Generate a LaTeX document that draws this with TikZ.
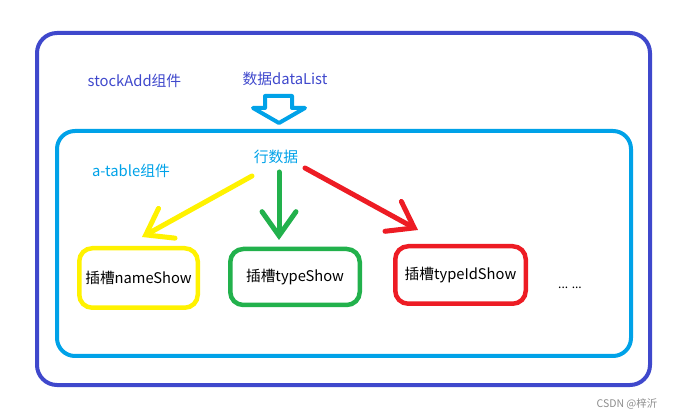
\documentclass[tikz,border=0pt]{standalone}
\usepackage{fontspec}
\setmainfont{Noto Sans CJK SC}
\usetikzlibrary{arrows.meta}
\definecolor{pindigo}{RGB}{63,72,204}
\definecolor{pcyan}{RGB}{0,162,232}
\definecolor{pyellow}{RGB}{255,242,0}
\definecolor{pgreen}{RGB}{34,177,76}
\definecolor{pred}{RGB}{237,28,36}
\tikzset{
  frame/.style={draw, line width=4pt, rounded corners=20pt, inner sep=0pt},
  slot/.style={draw, line width=4.5pt, rounded corners=13pt, inner sep=0pt, font=\fontsize{14.7}{17}\selectfont, text=black},
  lbl/.style={font=\fontsize{14.8}{17}\selectfont, inner sep=0pt},
  flow/.style={line width=5pt, line cap=round, line join=round, -{Straight Barb[length=24pt,width=34pt,line cap=round]}},
}
\begin{document}
\begin{tikzpicture}[x=1pt,y=-1pt]
\useasboundingbox (0,0) rectangle (677,419);
% outer and inner frames
\node[frame, draw=pindigo, minimum width=613pt, minimum height=352pt] (outer) at (343.5,209) {};
\node[frame, draw=pcyan, minimum width=574pt, minimum height=225pt, rounded corners=18pt] (inner) at (344,243.5) {};
% labels
\node[lbl, text=pindigo] (stock) at (134.5,81) {stockAdd组件};
\node[lbl, text=pindigo] (data) at (285,79) {数据dataList};
\node[lbl, text=pcyan] (atable) at (131,171) {a-table组件};
\node[lbl, text=pcyan] (row) at (276,157) {行数据};
% hollow arrow
\draw[pcyan, line width=4pt, line join=round]
  (265,96) -- (292,96) -- (292,108) -- (305,108) -- (279,123) -- (253,108) -- (265,108) -- cycle;
% slots
\node[slot, draw=pyellow, minimum width=118.5pt, minimum height=59.5pt] (s1) at (138.5,278) {插槽nameShow};
\node[slot, draw=pgreen, minimum width=129.5pt, minimum height=56pt] (s2) at (295,277) {插槽typeShow};
\node[slot, draw=pred, minimum width=130.5pt, minimum height=57.5pt] (s3) at (460.5,275) {插槽typeIdShow};
\node[font=\fontsize{12}{14}\selectfont, inner sep=0pt] (dots) at (570,288) {... ...};
% flow arrows
\coordinate (y0) at (252,176);
\coordinate (y1) at (142,237);
\coordinate (g0) at (279,172);
\coordinate (g1) at (279,240);
\coordinate (r0) at (305,168);
\coordinate (r1) at (418,230);
\draw[flow, pyellow] (y0) -- (y1);
\draw[flow, pgreen] (g0) -- (g1);
\draw[flow, pred] (r0) -- (r1);
% watermark
\node[font=\fontsize{10.5}{12}\selectfont, text=black!45, inner sep=0pt] (wm) at (627,404) {CSDN @梓沂};
\end{tikzpicture}
\end{document}
